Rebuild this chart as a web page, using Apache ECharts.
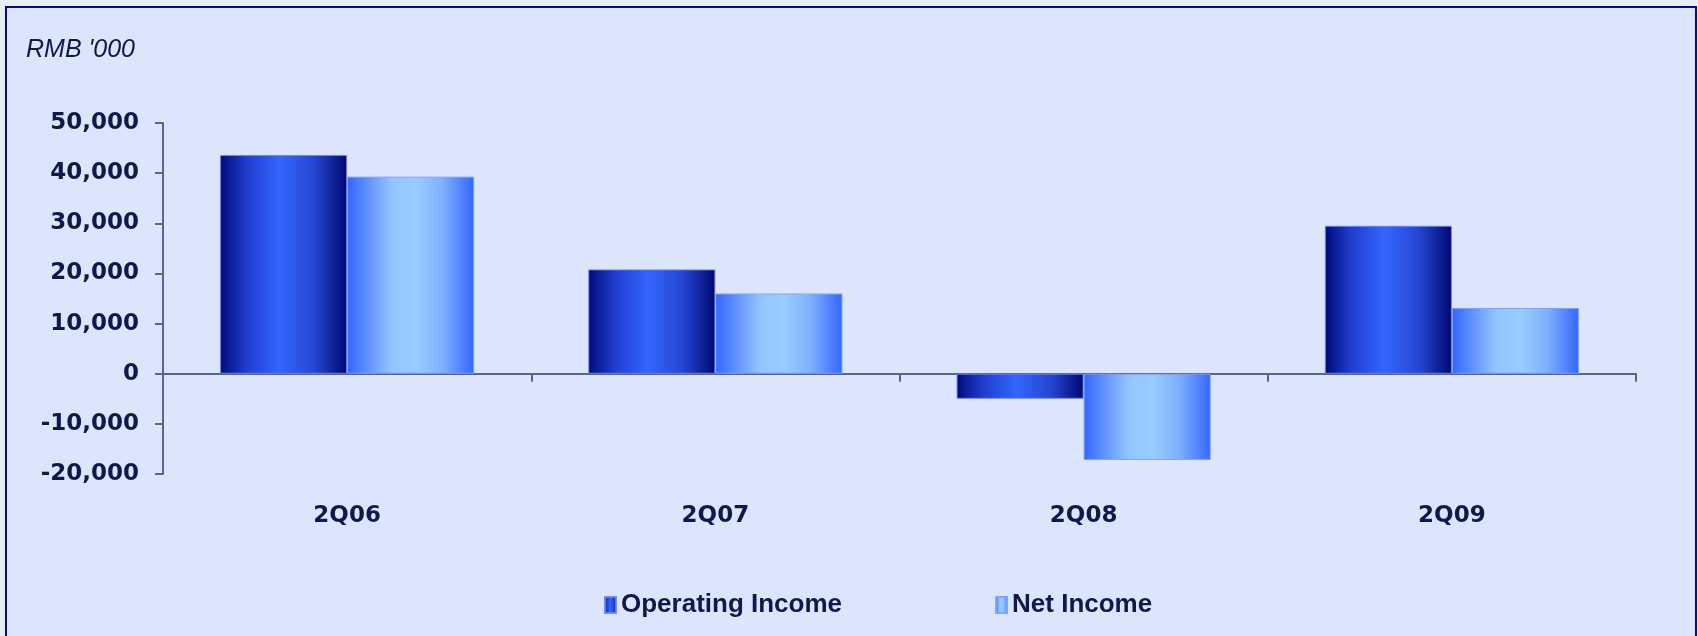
<!DOCTYPE html>
<html>
<head>
<meta charset="utf-8">
<script src="https://cdn.jsdelivr.net/npm/echarts@6/dist/echarts.min.js"></script>
<style>
  html, body { margin: 0; padding: 0; background: #e9edf7; }
  #chart { width: 1698px; height: 636px; }
</style>
</head>
<body>
<div id="chart"></div>
<script>
const categories = ['2Q06', '2Q07', '2Q08', '2Q09'];
const operatingIncome = [43600, 20800, -5000, 29500];
const netIncome = [39300, 16000, -17200, 13100];
const seriesNames = ['Operating Income', 'Net Income'];
const unitLabel = "RMB '000";

const opGradient = new echarts.graphic.LinearGradient(0, 0, 1, 0, [
  { offset: 0, color: '#000a78' },
  { offset: 0.2, color: '#1f3ccc' },
  { offset: 0.47, color: '#3366ff' },
  { offset: 0.75, color: '#2344d0' },
  { offset: 1, color: '#000870' }
]);
const netGradient = new echarts.graphic.LinearGradient(0, 0, 1, 0, [
  { offset: 0, color: '#3366ff' },
  { offset: 0.35, color: '#93c4ff' },
  { offset: 0.55, color: '#99ccff' },
  { offset: 0.75, color: '#7fb0ff' },
  { offset: 1, color: '#3366ff' }
]);

const axisColor = '#5a6490';
const textColor = '#0d1a4a';

const chart = echarts.init(document.getElementById('chart'), null, { renderer: 'canvas' });
chart.setOption({
  backgroundColor: '#e9edf7',
  animation: false,
  graphic: [{
    type: 'rect',
    z: -10,
    silent: true,
    shape: { x: 6, y: 7, width: 1690, height: 640 },
    style: { fill: '#dde5fd', stroke: '#0a0a80', lineWidth: 2 }
  }],
  title: {
    text: unitLabel,
    left: 21,
    top: 33,
    textStyle: {
      fontFamily: 'Liberation Sans, Arial, sans-serif',
      fontStyle: 'italic',
      fontWeight: 'normal',
      fontSize: 25,
      color: textColor
    }
  },
  legend: {
    data: seriesNames,
    left: 599,
    top: 587,
    icon: 'rect',
    itemWidth: 11,
    itemHeight: 16,
    itemGap: 153,
    textStyle: {
      fontFamily: 'Liberation Sans, Arial, sans-serif',
      fontWeight: 'bold',
      fontSize: 26,
      color: textColor
    }
  },
  grid: { left: 163, right: 62, top: 123, bottom: 162, containLabel: false },
  xAxis: [{
    type: 'category',
    data: categories,
    axisLine: { onZero: true, lineStyle: { color: axisColor, width: 2 } },
    axisTick: { show: true, length: 8, lineStyle: { color: axisColor, width: 2 } },
    axisLabel: { show: false },
    splitLine: { show: false }
  }, {
    type: 'category',
    data: categories,
    position: 'bottom',
    axisLine: { show: false, onZero: false },
    axisTick: { show: false },
    axisLabel: {
      margin: 31,
      fontFamily: 'DejaVu Sans, Verdana, sans-serif',
      fontWeight: 'bold',
      fontSize: 23,
      color: textColor
    },
    splitLine: { show: false }
  }],
  yAxis: {
    type: 'value',
    min: -20000,
    max: 50000,
    interval: 10000,
    axisLine: { show: true, lineStyle: { color: axisColor, width: 2 } },
    axisTick: { show: true, length: 8, lineStyle: { color: axisColor, width: 2 } },
    splitLine: { show: false },
    axisLabel: {
      margin: 24,
      fontFamily: 'DejaVu Sans, Verdana, sans-serif',
      fontWeight: 'bold',
      fontSize: 23,
      color: textColor,
      formatter: v => v.toLocaleString('en-US')
    }
  },
  series: [{
    name: seriesNames[0],
    type: 'bar',
    xAxisIndex: 0,
    data: operatingIncome,
    barGap: '0%',
    barCategoryGap: '31%',
    itemStyle: { color: opGradient, borderColor: 'rgba(110,130,240,0.9)', borderWidth: 1 }
  }, {
    name: seriesNames[1],
    type: 'bar',
    xAxisIndex: 0,
    data: netIncome,
    barGap: '0%',
    barCategoryGap: '31%',
    itemStyle: { color: netGradient, borderColor: 'rgba(120,160,255,0.9)', borderWidth: 1 }
  }]
});
</script>
</body>
</html>
